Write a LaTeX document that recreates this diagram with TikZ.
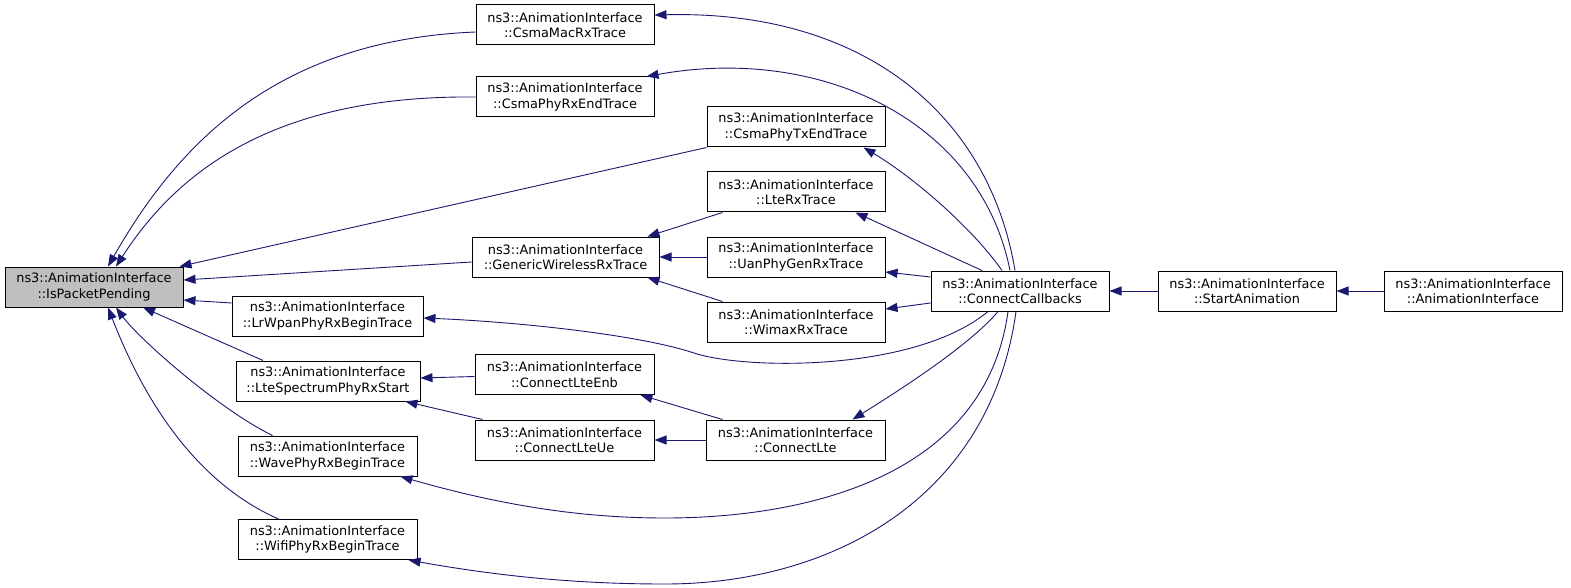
\documentclass[tikz,border=0pt]{standalone}
\usepackage{fontspec}
\setmainfont{DejaVu Sans}
\usetikzlibrary{arrows.meta}
\definecolor{mblue}{HTML}{191970}
\definecolor{rootgray}{HTML}{BFBFBF}
\tikzset{
  fnbox/.style={draw=black, line width=1pt, rectangle, fill=white, minimum height=40pt,
    inner xsep=4pt, inner ysep=0pt, align=center, font=\fontsize{12.9}{15.5}\selectfont},
  callarrow/.style={draw=mblue, line width=0.9pt, >={Triangle[length=12pt,width=9pt]}, <-},
}
\begin{document}
\begin{tikzpicture}[x=1pt,y=-1pt]
\useasboundingbox (0,0) rectangle (1571,588);
% nodes
\node[fnbox, fill=rootgray, minimum width=178pt] (ipp) at (94,287) {ns3::AnimationInterface\\::IsPacketPending};
\node[fnbox, minimum width=178pt] (cmac) at (565,25) {ns3::AnimationInterface\\::CsmaMacRxTrace};
\node[fnbox, minimum width=178pt] (cphyrx) at (565,97) {ns3::AnimationInterface\\::CsmaPhyRxEndTrace};
\node[fnbox, minimum width=178pt] (cphytx) at (796,127) {ns3::AnimationInterface\\::CsmaPhyTxEndTrace};
\node[fnbox, minimum width=178pt] (lterx) at (796,192) {ns3::AnimationInterface\\::LteRxTrace};
\node[fnbox, minimum width=178pt] (uan) at (796,257) {ns3::AnimationInterface\\::UanPhyGenRxTrace};
\node[fnbox, minimum width=178pt] (wimax) at (796,322) {ns3::AnimationInterface\\::WimaxRxTrace};
\node[fnbox, minimum width=187pt] (gen) at (565.5,257) {ns3::AnimationInterface\\::GenericWirelessRxTrace};
\node[fnbox, minimum width=191pt] (lrwpan) at (327.5,316) {ns3::AnimationInterface\\::LrWpanPhyRxBeginTrace};
\node[fnbox, minimum width=184pt] (ltespec) at (328,381) {ns3::AnimationInterface\\::LteSpectrumPhyRxStart};
\node[fnbox, minimum width=179pt] (wave) at (327.5,456) {ns3::AnimationInterface\\::WavePhyRxBeginTrace};
\node[fnbox, minimum width=179pt] (wifi) at (327.5,539.5) {ns3::AnimationInterface\\::WifiPhyRxBeginTrace};
\node[fnbox, minimum width=179pt] (enb) at (564.5,374.5) {ns3::AnimationInterface\\::ConnectLteEnb};
\node[fnbox, minimum width=179pt] (ue) at (564.5,440) {ns3::AnimationInterface\\::ConnectLteUe};
\node[fnbox, minimum width=179pt] (cl) at (795.5,440) {ns3::AnimationInterface\\::ConnectLte};
\node[fnbox, minimum width=178pt] (cc) at (1020,291) {ns3::AnimationInterface\\::ConnectCallbacks};
\node[fnbox, minimum width=178pt] (sa) at (1247,291) {ns3::AnimationInterface\\::StartAnimation};
\node[fnbox, minimum width=178pt] (ai) at (1473,291) {ns3::AnimationInterface\\::AnimationInterface};
% edges into IsPacketPending
\draw[callarrow] ([xshift=14pt]ipp.north) .. controls (180,140) and (280,40) .. ([yshift=-7pt]cmac.west);
\draw[callarrow] ([xshift=22pt]ipp.north) .. controls (175,175) and (270,95) .. (cphyrx.west);
\draw[callarrow] ([xshift=-4pt]ipp.north east) -- (cphytx.south west);
\draw[callarrow] ([yshift=7pt]ipp.east) -- ([yshift=-5pt]gen.west);
\draw[callarrow] ([yshift=-13pt]ipp.east) -- ([yshift=13pt]lrwpan.west);
\draw[callarrow] ([xshift=49pt]ipp.south) -- ([xshift=-65pt]ltespec.north);
\draw[callarrow] ([xshift=22pt]ipp.south) .. controls (140,340) and (220,410) .. ([xshift=-55pt]wave.north);
\draw[callarrow] ([xshift=14pt]ipp.south) .. controls (140,390) and (190,480) .. ([xshift=-49pt]wifi.north);
% edges into GenericWirelessRxTrace
\draw[callarrow] ([xshift=-12pt]gen.north east) -- ([xshift=16pt]lterx.south west);
\draw[callarrow] (gen.east) -- (uan.west);
\draw[callarrow] ([xshift=-12pt]gen.south east) -- ([xshift=16pt]wimax.north west);
% edges into LteSpectrumPhyRxStart
\draw[callarrow] ([yshift=3pt]ltespec.east) -- ([yshift=-2pt]enb.west);
\draw[callarrow] ([xshift=-15pt]ltespec.south east) -- ([xshift=8pt]ue.north west);
% edges from ConnectLte
\draw[callarrow] ([xshift=-14pt]enb.south east) -- ([xshift=17pt]cl.north west);
\draw[callarrow] (ue.east) -- (cl.west);
% edges from ConnectCallbacks
\draw[callarrow] ([yshift=10pt]cmac.east) .. controls (870,10) and (990,120) .. ([xshift=-5pt]cc.north);
\draw[callarrow] ([xshift=-8pt]cphyrx.north east) .. controls (820,45) and (980,120) .. ([xshift=-10pt]cc.north);
\draw[callarrow] ([xshift=-22pt]cphytx.south east) .. controls (910,175) and (970,225) .. ([xshift=-18pt]cc.north);
\draw[callarrow] ([xshift=-30pt]lterx.south east) -- ([xshift=-38pt]cc.north);
\draw[callarrow] ([yshift=-15pt]uan.east) -- ([yshift=14pt]cc.west);
\draw[callarrow] ([yshift=13pt]wimax.east) -- ([yshift=-12pt]cc.west);
\draw[callarrow] ([yshift=-2pt]lrwpan.east) .. controls (520,322) and (640,335) .. (694,353)
   .. controls (745,370) and (915,372) .. ([xshift=-32pt]cc.south);
\draw[callarrow] ([xshift=-33pt]cl.north east) .. controls (900,390) and (970,345) .. ([xshift=-22pt]cc.south);
\draw[callarrow] ([xshift=-17pt]wave.south east) .. controls (500,505) and (580,518) .. (665,518)
   .. controls (800,518) and (985,480) .. ([xshift=-12pt]cc.south);
\draw[callarrow] ([xshift=-9pt]wifi.south east) .. controls (520,580) and (600,584) .. (665,584)
   .. controls (830,584) and (990,500) .. ([xshift=-4pt]cc.south);
% chain to the right
\draw[callarrow] (cc.east) -- (sa.west);
\draw[callarrow] (sa.east) -- (ai.west);
\end{tikzpicture}
\end{document}
